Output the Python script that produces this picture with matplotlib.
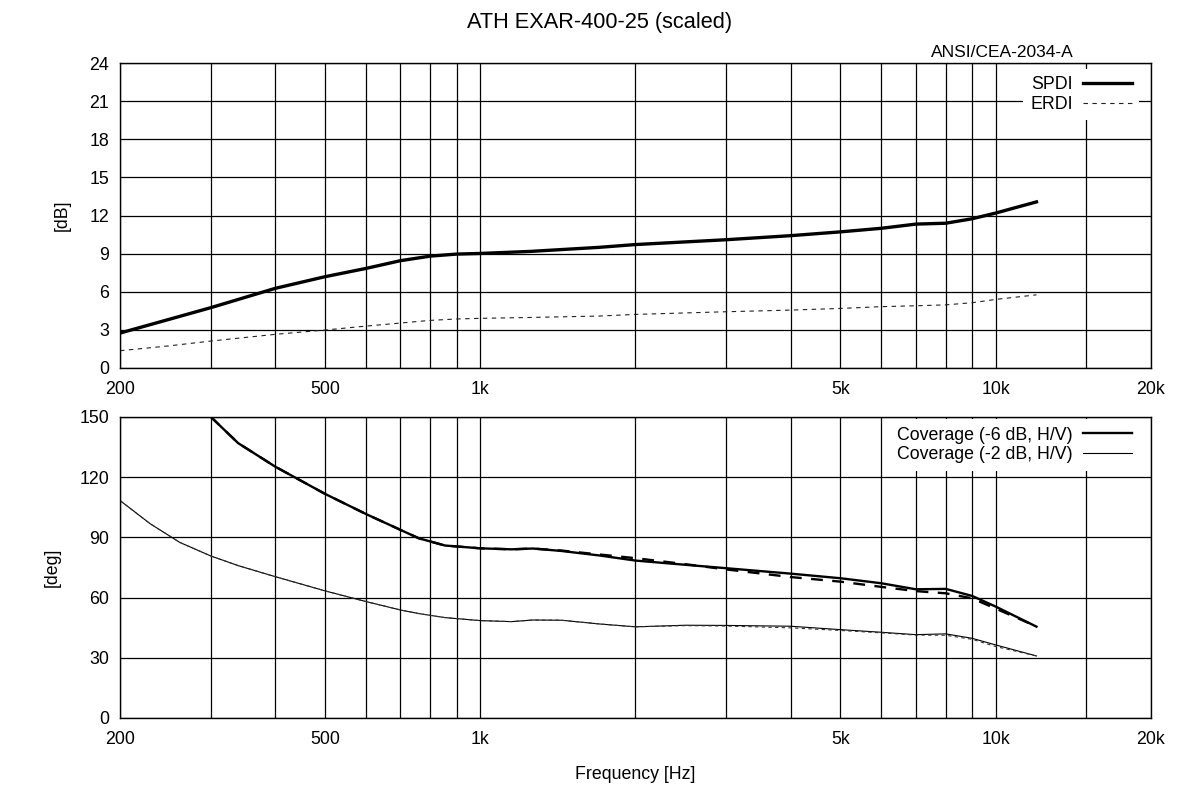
import numpy as np
import matplotlib

matplotlib.use("Agg")
import matplotlib.pyplot as plt

plt.rcParams["font.family"] = ["Liberation Sans", "DejaVu Sans"]

# directivity index data [dB]
di_freq = [200, 250, 300, 400, 500, 600, 700, 800, 900, 1000, 1250, 1700,
           2000, 3000, 4000, 5000, 6000, 7000, 8000, 9000, 10000, 12000]
spdi = [2.75, 3.85, 4.75, 6.27, 7.19, 7.84, 8.45, 8.81, 8.97, 9.02, 9.18, 9.5,
        9.72, 10.1, 10.42, 10.72, 11.0, 11.33, 11.4, 11.75, 12.2, 13.08]
erdi = [1.36, 1.75, 2.12, 2.65, 2.99, 3.3, 3.54, 3.75, 3.86, 3.91, 3.98, 4.09,
        4.22, 4.43, 4.56, 4.69, 4.83, 4.9, 4.97, 5.14, 5.4, 5.76]

# coverage angles [deg]
cov_freq = [200, 229, 261, 300, 339, 400, 500, 600, 700, 760, 854, 1000, 1150,
            1265, 1436, 1708, 2000, 2500, 3000, 4000, 5000, 6000, 7000, 8000,
            9000, 10000, 12000]
nan = np.nan
cov6_h = [nan, nan, nan, 150, 136.9, 125.2, 111.6, 101.6, 93.7, 89.5, 85.9, 84.5,
          84.0, 84.4, 83.2, 80.9, 78.4, 76.3, 74.6, 71.9, 69.6, 67.1, 64.1, 64.3,
          60.8, 55.5, 45.5]
cov6_v = [nan, nan, nan, 150, 136.9, 125.2, 111.6, 101.6, 93.7, 89.5, 85.9, 84.5,
          84.0, 84.4, 83.4, 81.4, 79.6, 76.6, 74.0, 70.2, 67.9, 65.3, 63.2, 62.1,
          59.6, 54.5, 45.6]
cov2_h = [108.3, 96.7, 87.5, 80.7, 75.9, 70.4, 63.3, 58.0, 53.8, 52.0, 50.0, 48.5,
          48.0, 48.8, 48.7, 46.8, 45.4, 46.2, 46.1, 45.7, 44.0, 42.7, 41.5, 41.9,
          39.7, 36.4, 30.9]
cov2_v = [108.3, 96.7, 87.5, 80.7, 75.9, 70.4, 63.3, 58.0, 53.8, 52.0, 50.0, 48.5,
          48.0, 48.8, 48.7, 46.8, 45.4, 46.0, 45.8, 44.9, 43.6, 42.4, 41.3, 41.2,
          39.2, 35.6, 30.9]

grid_freqs = [200, 300, 400, 500, 600, 700, 800, 900, 1000, 2000, 3000, 4000,
              5000, 6000, 7000, 8000, 9000, 10000, 15000, 20000]
tick_names = {200: "200", 500: "500", 1000: "1k", 5000: "5k", 10000: "10k", 20000: "20k"}
freq_labels = [tick_names.get(f, "") for f in grid_freqs]

FS = 12.8


def style_axes(ax, yticks):
    ax.set_xscale("log")
    ax.set_xlim(200, 20000)
    ax.set_xticks(grid_freqs)
    ax.set_xticklabels(freq_labels)
    ax.xaxis.set_minor_locator(matplotlib.ticker.NullLocator())
    ax.set_yticks(yticks)
    ax.set_ylim(yticks[0], yticks[-1])
    ax.grid(True, color="black", linewidth=0.9)
    ax.tick_params(axis="x", length=0, labelsize=FS, pad=9)
    ax.tick_params(axis="y", length=0, labelsize=FS, pad=8)
    for sp in ax.spines.values():
        sp.set_linewidth(1.0)
        sp.set_color("black")
    ax.set_axisbelow(True)


def add_legend(ax, top=1.0):
    leg = ax.legend(loc="upper right", bbox_to_anchor=(0.991, top), markerfirst=False,
                    fontsize=FS, frameon=True, handlelength=2.75, handletextpad=0.56,
                    borderaxespad=0.15, labelspacing=0.16, borderpad=0.4)
    frame = leg.get_frame()
    frame.set_facecolor("white")
    frame.set_edgecolor("none")
    frame.set_alpha(1)
    return leg


fig = plt.figure(figsize=(12, 8), dpi=100)
ax1 = fig.add_axes([0.1, 0.54, 0.859, 0.381])
ax2 = fig.add_axes([0.1, 0.1025, 0.859, 0.3765])

style_axes(ax1, list(range(0, 25, 3)))
ax1.plot(di_freq, spdi, color="black", lw=2.4, label="SPDI")
ax1.plot(di_freq, erdi, color="#222222", lw=0.8, dashes=(4, 4), label="ERDI")
ax1.set_ylabel("[dB]", fontsize=FS, labelpad=13.5)
add_legend(ax1, top=0.99)
ax1.text(0.9253, 1.0197, "ANSI/CEA-2034-A", transform=ax1.transAxes, ha="right",
         va="baseline", fontsize=12.5)

style_axes(ax2, list(range(0, 151, 30)))
ax2.plot(cov_freq, cov6_h, color="black", lw=1.7, label="Coverage (-6 dB, H/V)")
ax2.plot(cov_freq, cov6_v, color="black", lw=1.7, dashes=(5, 4))
ax2.plot(cov_freq, cov2_h, color="black", lw=0.8, label="Coverage (-2 dB, H/V)")
ax2.plot(cov_freq, cov2_v, color="#333333", lw=0.8, dashes=(3, 3))
ax2.set_ylabel("[deg]", fontsize=FS, labelpad=13.5)
ax2.set_xlabel("Frequency [Hz]", fontsize=FS, labelpad=13)
add_legend(ax2)

fig.suptitle("ATH EXAR-400-25 (scaled)", fontsize=15.7, y=0.985)

fig.savefig("out.png", dpi=100)
